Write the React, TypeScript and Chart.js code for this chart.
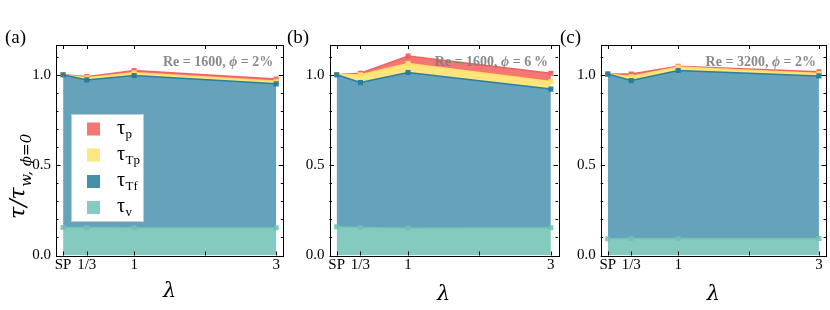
import React, { useEffect, useRef } from "react";
import { Chart, registerables } from "chart.js";

Chart.register(...registerables);

// ---------- data ----------
const lambdaValues = [0, 1 / 3, 1, 3];
const xTickValues = [0, 1 / 3, 1, 2, 3];
const xTickLabels = ["SP", "1/3", "1", "", "3"];
const yTickValues = [0, 0.5, 1.0];
const yTickLabels = ["0.0", "0.5", "1.0"];
const yMinorValues = [0.1, 0.2, 0.3, 0.4, 0.6, 0.7, 0.8, 0.9, 1.1];

const seriesNames = ["τv", "τTf", "τTp", "τp"];

// (a) Re = 1600, phi = 2%
const aTauV = [0.155, 0.155, 0.154, 0.154];
const aTauTf = [0.845, 0.817, 0.842, 0.796];
const aTauTp = [0, 0.012, 0.015, 0.014];
const aTauP = [0, 0.006, 0.013, 0.013];

// (b) Re = 1600, phi = 6%
const bTauV = [0.159, 0.155, 0.152, 0.154];
const bTauTf = [0.841, 0.802, 0.861, 0.767];
const bTauTp = [0, 0.043, 0.05, 0.042];
const bTauP = [0, 0.009, 0.041, 0.046];

// (c) Re = 3200, phi = 2%
const cTauV = [0.093, 0.094, 0.094, 0.094];
const cTauTf = [0.911, 0.874, 0.93, 0.9];
const cTauTp = [0, 0.023, 0.019, 0.013];
const cTauP = [0, 0.013, 0.004, 0.01];

// ---------- styles / layout ----------
const COLORS = {
  v: [112, 193, 179],
  tf: [36, 123, 160],
  tp: [255, 224, 102],
  p: [242, 95, 92],
};
const rgba = (c: number[], a: number) => `rgba(${c[0]},${c[1]},${c[2]},${a})`;

const SERIF = '"Liberation Serif", "Times New Roman", serif';
const MATH = '"DejaVu Serif", serif';

const panels = [
  {
    key: "a", tag: "(a)", re: "1600", phi: "2%",
    left: 56, right: 283.3, tagX: 5, lamY: 297,
    series: [aTauV, aTauTf, aTauTp, aTauP], legend: true, yTitle: true,
  },
  {
    key: "b", tag: "(b)", re: "1600", phi: "6\u2009%",
    left: 329.5, right: 558, tagX: 287, lamY: 300,
    series: [bTauV, bTauTf, bTauTp, bTauP], legend: false, yTitle: false,
  },
  {
    key: "c", tag: "(c)", re: "3200", phi: "2%",
    left: 600.7, right: 826, tagX: 560, lamY: 300,
    series: [cTauV, cTauTf, cTauTp, cTauP], legend: false, yTitle: false,
  },
];

const W = 830;
const H = 310;
const TOP = 45;
const BOTTOM = 255.5;

function drawRich(
  ctx: CanvasRenderingContext2D,
  x: number,
  y: number,
  main: string,
  sub: string,
  mainFont: string,
  subFont: string,
  subShift: number
) {
  ctx.font = mainFont;
  ctx.fillText(main, x, y);
  const w = ctx.measureText(main).width;
  ctx.font = subFont;
  ctx.fillText(sub, x + w + 0.5, y + subShift);
}

function makePlugin(p: any) {
  return {
    id: "decor_" + p.key,
    afterDraw(chart: any) {
      const { ctx, chartArea, scales } = chart;
      const { left, right, top, bottom } = chartArea;
      const xs = scales.x;
      const ys = scales.y;
      ctx.save();
      // frame
      ctx.strokeStyle = "#000";
      ctx.lineWidth = 1;
      ctx.strokeRect(Math.round(left) + 0.5, Math.round(top) + 0.5, Math.round(right - left), Math.round(bottom - top));
      // ticks
      ctx.beginPath();
      xTickValues.forEach((v) => {
        const px = Math.round(xs.getPixelForValue(v)) + 0.5;
        ctx.moveTo(px, bottom);
        ctx.lineTo(px, bottom - 4);
        ctx.moveTo(px, top);
        ctx.lineTo(px, top + 4);
      });
      yTickValues.forEach((v) => {
        const py = Math.round(ys.getPixelForValue(v)) + 0.5;
        ctx.moveTo(left, py);
        ctx.lineTo(left + 4.5, py);
        ctx.moveTo(right, py);
        ctx.lineTo(right - 4.5, py);
      });
      yMinorValues.forEach((v) => {
        const py = Math.round(ys.getPixelForValue(v)) + 0.5;
        ctx.moveTo(left, py);
        ctx.lineTo(left + 2.5, py);
        ctx.moveTo(right, py);
        ctx.lineTo(right - 2.5, py);
      });
      ctx.stroke();

      // annotation
      const parts = [
        { t: `Re = ${p.re}, `, f: `bold 14px ${SERIF}` },
        { t: "ϕ", f: `italic bold 14px ${SERIF}` },
        { t: ` = ${p.phi}`, f: `bold 14px ${SERIF}` },
      ];
      let total = 0;
      parts.forEach((q) => {
        ctx.font = q.f;
        total += ctx.measureText(q.t).width;
      });
      let ax = right - 10 - total;
      ctx.fillStyle = "rgba(125,125,125,0.9)";
      ctx.textBaseline = "alphabetic";
      ctx.textAlign = "left";
      parts.forEach((q) => {
        ctx.font = q.f;
        ctx.fillText(q.t, ax, 66);
        ax += ctx.measureText(q.t).width;
      });

      // panel tag
      ctx.fillStyle = "#000";
      ctx.font = `19px ${SERIF}`;
      ctx.fillText(p.tag, p.tagX, 43);

      // x label
      ctx.font = `italic 21px ${MATH}`;
      ctx.textAlign = "center";
      ctx.fillText("λ", (left + right) / 2, p.lamY);
      ctx.textAlign = "left";

      // y title
      if (p.yTitle) {
        ctx.save();
        ctx.translate(25, 219);
        ctx.rotate(-Math.PI / 2);
        drawRich(ctx, 0, 0, "τ/τ", "w, ϕ=0", `italic 22px ${MATH}`, `italic 15px ${MATH}`, 6);
        ctx.restore();
      }

      // legend
      if (p.legend) {
        const bx = 71.5, by = 114.5, bw = 72, bh = 107;
        ctx.fillStyle = "#fff";
        ctx.fillRect(bx, by, bw, bh);
        ctx.strokeStyle = "#c8c8c8";
        ctx.lineWidth = 1;
        ctx.strokeRect(bx, by, bw, bh);
        const entries = [
          { c: COLORS.p, sub: "p" },
          { c: COLORS.tp, sub: "Tp" },
          { c: COLORS.tf, sub: "Tf" },
          { c: COLORS.v, sub: "v" },
        ];
        const rows = [129, 155, 181.5, 207.5];
        entries.forEach((e, i) => {
          const cy = rows[i];
          ctx.fillStyle = rgba(e.c, 0.85);
          ctx.fillRect(87, cy - 6.5, 13, 13);
          ctx.fillStyle = "#000";
          drawRich(ctx, 117, cy + 4.5, "τ", e.sub, `20px ${SERIF}`, `13px ${SERIF}`, 4);
        });
      }
      ctx.restore();
    },
  };
}

function Panel({ p }: { p: any }) {
  const ref = useRef<HTMLCanvasElement>(null);
  useEffect(() => {
    const fills = [COLORS.v, COLORS.tf, COLORS.tp, COLORS.p];
    const fillAlpha = [0.85, 0.7, 0.85, 0.85];
    const datasets = p.series.map((vals: number[], i: number) => ({
      label: seriesNames[i],
      data: lambdaValues.map((x, j) => ({ x, y: vals[j] })),
      fill: i === 0 ? "origin" : "-1",
      backgroundColor: rgba(fills[i], fillAlpha[i]),
      borderColor: rgba(fills[i], i === 0 ? 0.85 : 0.95),
      borderWidth: 1.5,
      pointStyle: "rect",
      pointRadius: 3.6,
      pointBorderWidth: 0,
      pointBackgroundColor: rgba(fills[i], i === 0 ? 0.85 : 0.95),
      tension: 0,
    }));
    const chart = new Chart(ref.current as HTMLCanvasElement, {
      type: "line",
      data: { datasets },
      options: {
        animation: false,
        responsive: false,
        devicePixelRatio: 1,
        layout: { padding: { left: 0, top: TOP, right: W - p.right, bottom: 0 } },
        plugins: { legend: { display: false }, tooltip: { enabled: false } },
        scales: {
          x: {
            type: "linear",
            min: -0.1,
            max: 3.1,
            afterBuildTicks: (s: any) => {
              s.ticks = xTickValues.map((v) => ({ value: v }));
            },
            afterFit: (s: any) => {
              s.height = H - BOTTOM;
            },
            ticks: {
              autoSkip: false,
              maxRotation: 0,
              padding: 1,
              color: "#000",
              font: { family: SERIF, size: 15 },
              callback: (_v: any, idx: number) => xTickLabels[idx],
            },
            grid: { display: false, drawTicks: false },
            border: { display: false },
          },
          y: {
            type: "linear",
            stacked: true,
            min: 0,
            max: 1.165,
            afterBuildTicks: (s: any) => {
              s.ticks = yTickValues.map((v) => ({ value: v }));
            },
            afterFit: (s: any) => {
              s.width = p.left;
            },
            ticks: {
              padding: 5,
              color: "#000",
              font: { family: SERIF, size: 15 },
              callback: (_v: any, idx: number) => yTickLabels[idx],
            },
            grid: { display: false, drawTicks: false },
            border: { display: false },
          },
        },
      },
      plugins: [makePlugin(p)],
    } as any);
    return () => chart.destroy();
  }, []);
  return (
    <canvas
      ref={ref}
      width={W}
      height={H}
      style={{ position: "absolute", left: 0, top: 0, width: W, height: H }}
    />
  );
}

export default function App() {
  return (
    <div style={{ position: "absolute", left: 0, top: 0, width: W, height: H, background: "#fff" }}>
      {panels.map((p) => (
        <Panel key={p.key} p={p} />
      ))}
    </div>
  );
}
